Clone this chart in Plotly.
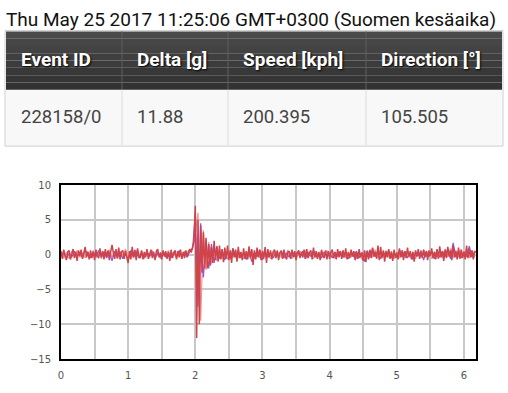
import numpy as np
import plotly.graph_objects as go

# ---------------- data ----------------
title_text = "Thu May 25 2017 11:25:06 GMT+0300 (Suomen kesäaika)"
table_headers = ["Event ID", "Delta [g]", "Speed [kph]", "Direction [°]"]
table_values = ["228158/0", "11.88", "200.395", "105.505"]

red_step = 0.02
red_values = [
    0.5, -0.6, 0.7, -0.3, -0.8, 0.4, 0.6, -0.7, 0.2, 0.8,
    -0.5, 0.4, -0.9, 0.6, -0.2, 0.7, -0.6, 0.5, 1.1, -0.4,
    0.3, -0.7, 0.6, -0.5, 0.4, -0.8, 0.7, -0.1, -0.5, 0.9,
    -0.4, 0.5, -0.7, 0.8, -0.3, 0.6, -0.8, 0.4, 1.4, 0.2,
    -0.6, 0.8, -0.5, 1.0, -0.7, 0.4, 0.6, -0.6, 0.5, -0.4,
    -1.2, 0.5, -0.7, 1.1, -0.4, 0.7, -0.8, 0.9, -0.2, -0.5,
    0.6, -0.7, 0.4, -0.4, 0.8, -0.6, 0.3, 0.7, -0.5, 0.4,
    -0.8, 0.5, 0.8, -0.4, 0.3, -0.7, 0.6, -0.3, 0.5, -0.6,
    0.4, -0.9, 0.7, -0.5, 0.2, 0.6, -0.7, 0.5, -0.4, 0.7,
    -0.6, 0.4, -0.5, 0.6, -0.3, 0.5, 0.8, 0.3, 1.1, 1.8,
    7.0, -12.0, 5.0, -10.0, 4.2, -2.6, 3.2, -2.0, 2.4, -2.0,
    1.5, -1.6, 1.1, -1.2, 2.0, -0.8, 1.2, -1.0, 1.3, -0.7,
    0.8, -1.1, 1.0, -0.6, 1.3, -0.8, 0.6, -1.2, 0.9, -0.4,
    0.7, -1.0, 1.1, -0.5, 0.4, -0.8, 0.9, -0.6, 0.5, -0.7,
    1.2, -0.5, 0.8, -1.5, 0.6, -0.7, 1.0, -0.4, 0.7, -0.8,
    0.5, -0.6, 1.1, -1.2, 0.8, -0.4, 0.6, -0.7, 0.4, 0.7,
    -0.5, 0.6, -0.8, 0.3, 0.5, -0.6, 0.7, -0.3, -0.7, 0.5,
    0.4, -0.6, 0.7, -0.4, 0.5, -0.8, 0.3, 0.6, -0.5, 0.4,
    -0.4, 0.7, -0.6, 0.8, -0.5, 0.3, 0.6, -0.7, 1.0, -0.4,
    0.5, -0.6, 0.4, -0.8, 0.7, -0.2, -0.5, 0.6, -0.7, 0.5,
    -0.6, 0.4, 0.7, -0.5, 0.3, -0.7, 0.8, -0.4, 0.5, -0.6,
    0.6, -0.4, 0.9, -0.7, 0.4, -0.5, 0.7, -0.3, 0.5, -0.8,
    0.4, -0.6, 0.8, -0.4, 0.3, -0.9, 0.6, -1.1, 0.5, -0.7,
    0.7, -0.5, 1.0, -0.3, 0.4, -0.6, 1.3, -0.8, 1.1, -0.5,
    0.6, -1.0, 0.5, -0.4, 0.8, -0.6, 0.4, -0.9, 0.7, -0.5,
    0.3, -0.7, 0.9, -0.4, 0.6, -0.8, 0.5, -0.5, 1.0, -0.3,
    0.5, -0.7, 0.4, -1.0, 0.6, -0.3, 0.8, -0.6, 0.4, -0.5,
    0.7, -0.4, 0.5, -0.8, 0.6, -0.2, 0.9, -0.5, 0.4, -0.7,
    0.8, -0.6, 1.2, -0.4, 0.5, -0.9, 0.7, -0.5, 1.1, -0.3,
    0.6, -0.8, 1.4, -0.4, 0.5, -0.7, 1.0, -0.6, 0.7, -0.5,
    0.4, -0.7, 1.3, -0.5, 0.8, -0.4, 0.6, -0.7, 0.5, 0.3,
]

purple_step = 0.04
purple_values = [
    -0.3, 0.4, -0.6, 0.2, -0.4, 0.5, -0.2, 0.3, -0.5, 0.6,
    0.2, -0.5, 0.4, -0.3, 0.6, -0.2, 0.3, -0.5, 0.4, -0.9,
    0.5, -0.4, 0.3, -0.6, 0.2, -0.8, 0.6, -0.3, 0.4, -0.5,
    0.3, -0.4, 0.5, -0.2, 0.4, -0.6, 0.2, -0.3, 0.5, -0.4,
    0.2, -0.5, 0.4, -0.3, 0.6, -0.2, 0.3, -0.4, 0.5, 0.8,
    6.0, -7.5, 4.5, -3.3, 2.0, -2.0, 1.5, -1.2, 1.2, -0.6,
    0.7, -0.8, 0.5, -0.6, 0.9, -0.4, 0.6, -0.5, 0.3, -0.7,
    0.6, -1.0, 0.4, -0.3, 0.7, -0.8, 0.5, -0.4, 0.3, -0.5,
    0.4, -0.3, 0.6, -0.5, 0.2, -0.4, 0.5, -0.3, 0.4, -0.2,
    0.5, -0.6, 0.3, -0.2, 0.6, -0.4, 0.2, -0.5, 0.4, -0.3,
    0.3, -0.5, 0.4, -0.2, 0.5, -0.4, 0.3, -0.6, 0.2, -0.3,
    0.5, -0.5, 0.3, -1.0, 0.6, -0.4, 0.9, -0.3, 0.5, -0.6,
    0.4, -0.3, 0.6, -0.5, 0.2, -0.4, 0.7, -0.3, 0.5, -0.5,
    0.3, -0.7, 0.4, -0.2, 0.6, -0.8, 0.5, -0.3, 0.4, -0.6,
    0.7, -0.4, 0.5, -0.3, 0.8, -0.6, 1.7, -0.4, 0.6, -0.5,
    0.4, -0.3, 1.2, -0.4, 0.5,
]

pink_step = 0.04
pink_values = [
    0.4, -0.5, 0.3, -0.6, 0.5, -0.3, 0.6, -0.4, 0.2, -0.5,
    0.5, -0.3, 0.6, -0.5, 0.3, -0.6, 0.4, -0.2, 0.7, -0.4,
    0.3, -0.6, 0.5, -0.4, 0.8, -0.3, 0.4, -0.5, 0.6, -0.2,
    0.5, -0.6, 0.3, -0.4, 0.6, -0.3, 0.5, -0.6, 0.4, -0.3,
    0.6, -0.4, 0.3, -0.5, 0.4, -0.6, 0.5, -0.3, 0.6, 1.0,
    3.0, 6.0, -9.5, 3.5, -2.2, 1.8, -1.4, 1.2, -0.9, 0.8,
    -0.6, 0.5, -0.7, 0.6, -0.4, 0.7, -0.5, 0.3, -0.6, 0.5,
    -0.4, 0.7, -0.6, 0.4, -0.5, 0.6, -0.3, 0.5, -0.6, 0.4,
    -0.5, 0.3, -0.4, 0.6, -0.3, 0.5, -0.6, 0.4, -0.2, 0.5,
    -0.4, 0.6, -0.5, 0.3, -0.6, 0.4, -0.3, 0.5, -0.4, 0.6,
    -0.3, 0.5, -0.6, 0.4, -0.2, 0.6, -0.5, 0.3, -0.4, 0.5,
    -0.6, 0.4, -0.7, 0.5, -0.3, 0.6, -0.4, 0.7, -0.5, 0.4,
    -0.3, 0.6, -0.4, 0.5, -0.6, 0.3, -0.5, 0.6, -0.4, 0.5,
    -0.5, 0.4, -0.6, 0.3, -0.4, 0.7, -0.3, 0.5, -0.6, 0.4,
    -0.4, 0.6, -0.5, 0.8, -0.3, 0.9, -0.5, 0.6, -0.4, 0.7,
    -0.3, 0.8, -0.5, 0.6, -0.4,
]

x_ticks = [0, 1, 2, 3, 4, 5, 6]
y_ticks = [10, 5, 0, -5, -10, -15]

red_x = np.round(np.arange(len(red_values)) * red_step, 4)
purple_x = np.round(np.arange(len(purple_values)) * purple_step, 4)
pink_x = np.round(np.arange(len(pink_values)) * pink_step, 4)

# ---------------- layout geometry (pixels) ----------------
W, H = 508, 393
PL, PR, PT, PB = 61, 476, 185, 364


def px(x):
    return (x - PL) / (PR - PL)


def py(y):
    return (PB - y) / (PB - PT)


fig = go.Figure()
fig.add_trace(go.Scatter(x=pink_x, y=pink_values, mode="lines",
                         line=dict(color="rgb(240,150,150)", width=1.2),
                         hoverinfo="skip", showlegend=False))
fig.add_trace(go.Scatter(x=purple_x, y=purple_values, mode="lines",
                         line=dict(color="rgb(145,80,230)", width=1.2),
                         hoverinfo="skip", showlegend=False))
fig.add_trace(go.Scatter(x=red_x, y=red_values, mode="lines",
                         line=dict(color="rgb(208,68,72)", width=1.5),
                         hoverinfo="skip", showlegend=False))

shapes = []
annotations = []

# title
annotations.append(dict(xref="paper", yref="paper", x=px(4), y=py(15),
                        xanchor="left", yanchor="middle", showarrow=False,
                        text=title_text,
                        font=dict(family="Roboto", size=19, color="#111")))

# table geometry
TL, TR, TT, HB, TB = 6, 502, 27, 87, 144
col_edges = [TL, 122, 228, 366, TR]

# outer border
shapes.append(dict(type="rect", xref="paper", yref="paper",
                   x0=px(TL - 1), x1=px(TR + 1), y0=py(TB + 1), y1=py(TT - 1),
                   line=dict(color="#d0d0d0", width=1), fillcolor="#f8f8f8", layer="below"))
# header gradient bands
n_bands = 8
for i in range(n_bands):
    y0 = TT + (HB - TT) * i / n_bands
    y1 = TT + (HB - TT) * (i + 1) / n_bands
    c = int(74 - (74 - 50) * i / (n_bands - 1))
    shapes.append(dict(type="rect", xref="paper", yref="paper",
                       x0=px(TL), x1=px(TR), y0=py(y1), y1=py(y0),
                       line=dict(width=0), fillcolor=f"rgb({c},{c},{c})", layer="below"))
# column separators
for ce in col_edges[1:-1]:
    shapes.append(dict(type="line", xref="paper", yref="paper",
                       x0=px(ce), x1=px(ce), y0=py(HB), y1=py(TT),
                       line=dict(color="#5e5e5e", width=1)))
    shapes.append(dict(type="line", xref="paper", yref="paper",
                       x0=px(ce), x1=px(ce), y0=py(TB), y1=py(HB),
                       line=dict(color="#dcdcdc", width=1)))

for i, (h, v) in enumerate(zip(table_headers, table_values)):
    x_text = col_edges[i] + 13
    annotations.append(dict(xref="paper", yref="paper", x=px(x_text), y=py(56),
                            xanchor="left", yanchor="middle", showarrow=False,
                            text=f"<b>{h}</b>",
                            font=dict(family="Roboto", size=19, color="white",
                                      shadow="1px 1px 2px #000")))
    annotations.append(dict(xref="paper", yref="paper", x=px(x_text), y=py(115.5),
                            xanchor="left", yanchor="middle", showarrow=False,
                            text=v,
                            font=dict(family="Roboto", size=18.5, color="#444")))

fig.update_layout(
    width=W, height=H,
    margin=dict(l=PL, r=W - PR, t=PT, b=H - PB, pad=0),
    paper_bgcolor="white", plot_bgcolor="white",
    shapes=shapes, annotations=annotations,
    showlegend=False,
    xaxis=dict(range=[0, 6.18], tickvals=x_ticks, showgrid=True,
               gridcolor="#c8c8c8", gridwidth=2, zeroline=False,
               minor=dict(dtick=0.5, tick0=0, showgrid=True, gridcolor="#c8c8c8", gridwidth=2),
               showline=True, mirror=True, linecolor="black", linewidth=2,
               ticks="", ticklabelstandoff=6,
               tickfont=dict(family="DejaVu Sans", size=10, color="#555")),
    yaxis=dict(range=[-15, 10], tickvals=y_ticks, showgrid=True,
               gridcolor="#c8c8c8", gridwidth=2, zeroline=False,
               showline=True, mirror=True, linecolor="black", linewidth=2,
               ticks="", ticklabelstandoff=6,
               tickfont=dict(family="DejaVu Sans", size=10, color="#555")),
)

fig.write_html("out.html",
               config={"displayModeBar": False},
               post_script="document.body.style.margin='0';document.body.style.overflow='hidden';")
